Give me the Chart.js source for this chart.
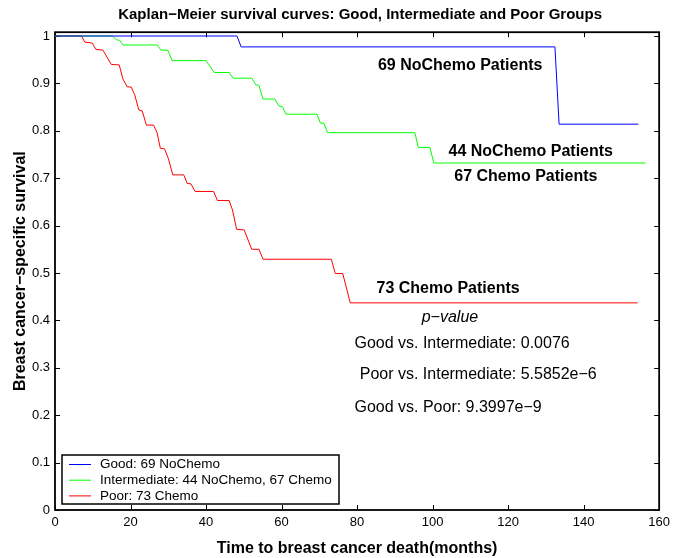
<!DOCTYPE html>
<html><head><meta charset="utf-8">
<script src="https://cdn.jsdelivr.net/npm/chart.js@4/dist/chart.umd.min.js"></script>
<style>html,body{margin:0;padding:0;background:#fff}</style>
</head><body>
<canvas id="c" width="675" height="558"></canvas>
<script>
// ---- data ----
const xTicks = [0, 20, 40, 60, 80, 100, 120, 140, 160];
const yTicks = [0, 0.1, 0.2, 0.3, 0.4, 0.5, 0.6, 0.7, 0.8, 0.9, 1];

const goodT = [0, 48.2, 49.3, 132.4, 133.5, 154.5];
const goodS = [1, 1, 0.977, 0.977, 0.814, 0.814];

const intT = [0, 15.2, 16.3, 17.1, 18.0, 27.1, 28.1, 29.9, 31.0, 40.0, 42.2, 46.1, 47.2, 52.1, 53.2,
              54.0, 55.1, 58.2, 59.3, 60.2, 61.2, 69.4, 70.3, 71.2, 72.2, 95.3, 96.2, 99.3, 100.3, 156.4];
const intS = [1, 1, 0.992, 0.991, 0.981, 0.981, 0.970, 0.970, 0.948, 0.948, 0.923, 0.923, 0.911, 0.911, 0.897,
              0.896, 0.867, 0.867, 0.852, 0.851, 0.835, 0.835, 0.816, 0.816, 0.796, 0.796, 0.765, 0.765, 0.732, 0.732];

const poorT = [0, 7.0, 7.9, 9.9, 10.8, 12.7, 14.9, 17.0, 18.0, 19.1, 20.2, 21.1, 22.2, 23.1, 24.2, 26.1,
               27.0, 27.9, 29.0, 30.0, 31.2, 34.1, 35.0, 36.0, 37.1, 42.0, 43.0, 46.1, 47.0, 48.1, 50.1,
               52.1, 54.0, 55.1, 73.2, 74.2, 76.2, 78.2, 154.3];
const poorS = [1, 1, 0.987, 0.985, 0.972, 0.970, 0.940, 0.939, 0.909, 0.893, 0.892, 0.876, 0.844, 0.842, 0.812, 0.812,
               0.797, 0.763, 0.762, 0.742, 0.707, 0.707, 0.689, 0.688, 0.672, 0.672, 0.653, 0.653, 0.633, 0.592, 0.591,
               0.550, 0.550, 0.529, 0.529, 0.499, 0.499, 0.437, 0.437];

const seriesLabels = ['Good: 69 NoChemo', 'Intermediate: 44 NoChemo, 67 Chemo', 'Poor: 73 Chemo'];
const seriesColors = ['#0000ff', '#00ff00', '#ff0000'];

const titleText = 'Kaplan\u2212Meier survival curves: Good, Intermediate and Poor Groups';
const xTitle = 'Time to breast cancer death(months)';
const yTitle = 'Breast cancer\u2212specific survival';

const FONT = '"Liberation Sans", Arial, Helvetica, sans-serif';

// annotation texts and their anchors in data coordinates
const annotations = [
  {text: '69 NoChemo Patients', x: 107.3, y: 0.937, align: 'center', font: 'bold 16px ' + FONT},
  {text: '44 NoChemo Patients', x: 126.0, y: 0.757, align: 'center', font: 'bold 16px ' + FONT},
  {text: '67 Chemo Patients', x: 124.7, y: 0.703, align: 'center', font: 'bold 16px ' + FONT},
  {text: '73 Chemo Patients', x: 104.1, y: 0.468, align: 'center', font: 'bold 16px ' + FONT},
  {text: 'p\u2212value', x: 104.6, y: 0.407, align: 'center', font: 'italic 16px ' + FONT},
  {text: 'Good vs. Intermediate: 0.0076', x: 79.3, y: 0.352, align: 'left', font: '16px ' + FONT},
  {text: 'Poor vs. Intermediate: 5.5852e\u22126', x: 80.7, y: 0.285, align: 'left', font: '16px ' + FONT},
  {text: 'Good vs. Poor: 9.3997e\u22129', x: 79.3, y: 0.215, align: 'left', font: '16px ' + FONT}
];

function pts(t, s) { return t.map((v, i) => ({x: v, y: s[i]})); }

const decor = {
  id: 'decor',
  beforeDatasetsDraw(chart) {
    const {ctx, chartArea: a, scales} = chart;
    const xs = scales.x, ys = scales.y;
    ctx.save();
    ctx.strokeStyle = '#000';
    ctx.lineWidth = 1.8;
    ctx.strokeRect(a.left, a.top, a.right - a.left, a.bottom - a.top);
    ctx.lineWidth = 1;
    ctx.beginPath();
    const L = 5;
    xTicks.forEach(v => {
      const px = Math.round(xs.getPixelForValue(v)) + 0.5;
      ctx.moveTo(px, a.bottom); ctx.lineTo(px, a.bottom - L);
      ctx.moveTo(px, a.top); ctx.lineTo(px, a.top + L);
    });
    yTicks.forEach(v => {
      const py = Math.round(ys.getPixelForValue(v)) + 0.5;
      ctx.moveTo(a.left, py); ctx.lineTo(a.left + L, py);
      ctx.moveTo(a.right, py); ctx.lineTo(a.right - L, py);
    });
    ctx.stroke();
    ctx.restore();
  },
  afterDraw(chart) {
    const {ctx, chartArea: a, scales} = chart;
    const xs = scales.x, ys = scales.y;
    ctx.save();
    // title
    ctx.fillStyle = '#000';
    ctx.font = 'bold 15px ' + FONT;
    ctx.textAlign = 'center';
    ctx.textBaseline = 'middle';
    ctx.fillText(titleText, (a.left + a.right) / 2 + 3, 15);

    // annotations
    annotations.forEach(an => {
      ctx.font = an.font;
      ctx.textAlign = an.align;
      ctx.textBaseline = 'middle';
      ctx.fillText(an.text, xs.getPixelForValue(an.x), ys.getPixelForValue(an.y));
    });

    // legend box
    const bx = a.left + 7, by = 455, bw = 277, bh = 49;
    ctx.fillStyle = '#fff';
    ctx.fillRect(bx, by, bw, bh);
    ctx.lineWidth = 1.5;
    ctx.strokeStyle = '#000';
    ctx.strokeRect(bx, by, bw, bh);
    ctx.font = '13.5px ' + FONT;
    ctx.textAlign = 'left';
    ctx.textBaseline = 'middle';
    seriesLabels.forEach((lab, i) => {
      const ry = by + 9.5 + i * 15.7;
      ctx.strokeStyle = seriesColors[i];
      ctx.lineWidth = 1;
      ctx.beginPath();
      ctx.moveTo(bx + 7, ry); ctx.lineTo(bx + 29, ry);
      ctx.stroke();
      ctx.fillStyle = '#000';
      ctx.fillText(lab, bx + 38, ry);
    });
    ctx.restore();
  }
};

new Chart(document.getElementById('c'), {
  type: 'line',
  data: {
    datasets: [
      {label: seriesLabels[0], data: pts(goodT, goodS), borderColor: seriesColors[0]},
      {label: seriesLabels[1], data: pts(intT, intS), borderColor: seriesColors[1]},
      {label: seriesLabels[2], data: pts(poorT, poorS), borderColor: seriesColors[2]}
    ].map(d => Object.assign(d, {borderWidth: 1, pointRadius: 0, tension: 0, fill: false, clip: 4}))
  },
  options: {
    responsive: false,
    animation: false,
    devicePixelRatio: 1,
    layout: {padding: {left: 0, right: 12, top: 32.2, bottom: 0}},
    plugins: {legend: {display: false}, title: {display: false}, tooltip: {enabled: false}},
    scales: {
      x: {
        type: 'linear', min: 0, max: 160,
        afterBuildTicks: s => { s.ticks = xTicks.map(v => ({value: v})); },
        afterFit: s => { s.height = 48; },
        grid: {display: false, drawTicks: false},
        border: {display: false},
        ticks: {autoSkip: false, maxRotation: 0, padding: 5, color: '#000', font: {family: FONT, size: 13}},
        title: {display: true, text: xTitle, color: '#000', padding: {top: 0, bottom: 0},
                font: {family: FONT, size: 16, weight: 'bold'}}
      },
      y: {
        type: 'linear', min: 0, max: 1.008,
        afterBuildTicks: s => { s.ticks = yTicks.map(v => ({value: v})); },
        afterFit: s => { s.width = 55; },
        grid: {display: false, drawTicks: false},
        border: {display: false},
        ticks: {autoSkip: false, padding: 5, color: '#000', font: {family: FONT, size: 13},
                callback: v => (v === 0 ? '0' : v === 1 ? '1' : v.toFixed(1))},
        title: {display: true, text: yTitle, color: '#000', padding: {top: 11, bottom: 0},
                font: {family: FONT, size: 16, weight: 'bold'}}
      }
    }
  },
  plugins: [decor]
});
</script>
</body></html>
